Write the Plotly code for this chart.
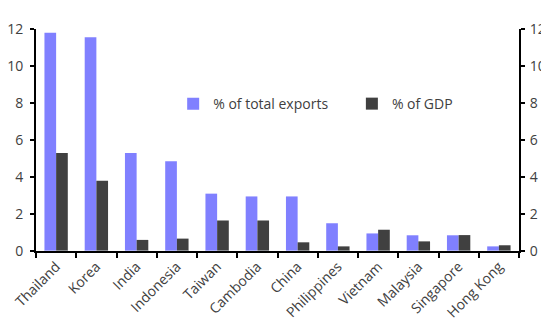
import plotly.graph_objects as go

countries = ["Thailand", "Korea", "India", "Indonesia", "Taiwan", "Cambodia",
             "China", "Philippines", "Vietnam", "Malaysia", "Singapore", "Hong Kong"]
pct_exports = [11.8, 11.55, 5.3, 4.85, 3.1, 2.95, 2.95, 1.5, 0.95, 0.85, 0.85, 0.25]
pct_gdp = [5.3, 3.8, 0.6, 0.67, 1.65, 1.65, 0.47, 0.25, 1.15, 0.52, 0.86, 0.31]
y_ticks = [0, 2, 4, 6, 8, 10, 12]

font_family = "Open Sans, Lato, sans-serif"
text_color = "#404040"

fig = go.Figure()
fig.add_trace(go.Bar(x=countries, y=pct_exports, name="% of total exports",
                     legend="legend", marker=dict(color="#8080FF", line=dict(width=0))))
fig.add_trace(go.Bar(x=countries, y=pct_gdp, name="% of GDP",
                     legend="legend2", marker=dict(color="#404040", line=dict(width=0))))
# invisible trace to activate right axis
fig.add_trace(go.Bar(x=countries, y=[0]*len(countries), yaxis="y2",
                     showlegend=False, hoverinfo="skip", marker=dict(color="rgba(0,0,0,0)")))

leg_common = dict(orientation="h", yanchor="middle", xanchor="left",
                  font=dict(size=14, color=text_color), bgcolor="rgba(0,0,0,0)",
                  itemwidth=30)

# page body has an 8px default margin, so the figure is sized to fit the window
fig.update_layout(
    width=541, height=310,
    margin=dict(l=28, r=30, t=21, b=67),
    paper_bgcolor="white", plot_bgcolor="white",
    barmode="group", bargap=0.42, bargroupgap=0,
    font=dict(family=font_family, size=13, color=text_color),
    showlegend=True,
    legend=dict(x=0.284, y=0.662, **leg_common),
    legend2=dict(x=0.654, y=0.662, **leg_common),
    xaxis=dict(showline=True, linecolor="black", linewidth=2, ticks="outside",
               tickson="boundaries", ticklen=5, tickwidth=2, tickcolor="black",
               tickangle=-45, tickfont=dict(size=14, color=text_color),
               showgrid=False, zeroline=False, automargin=False),
    yaxis=dict(range=[0, 12], tickvals=y_ticks, showline=True, linecolor="black",
               linewidth=2, ticks="outside", ticklen=4, tickwidth=2, tickcolor="black",
               showgrid=False, zeroline=False, automargin=False, ticklabelstandoff=4,
               tickfont=dict(size=14, color=text_color)),
    yaxis2=dict(range=[0, 12], tickvals=y_ticks, overlaying="y", side="right",
                showline=True, linecolor="black", linewidth=2, ticks="outside",
                ticklen=4, tickwidth=2, tickcolor="black", showgrid=False,
                zeroline=False, automargin=False, ticklabelstandoff=2,
                tickfont=dict(size=14, color=text_color)),
)

fig.write_html("out.html")
